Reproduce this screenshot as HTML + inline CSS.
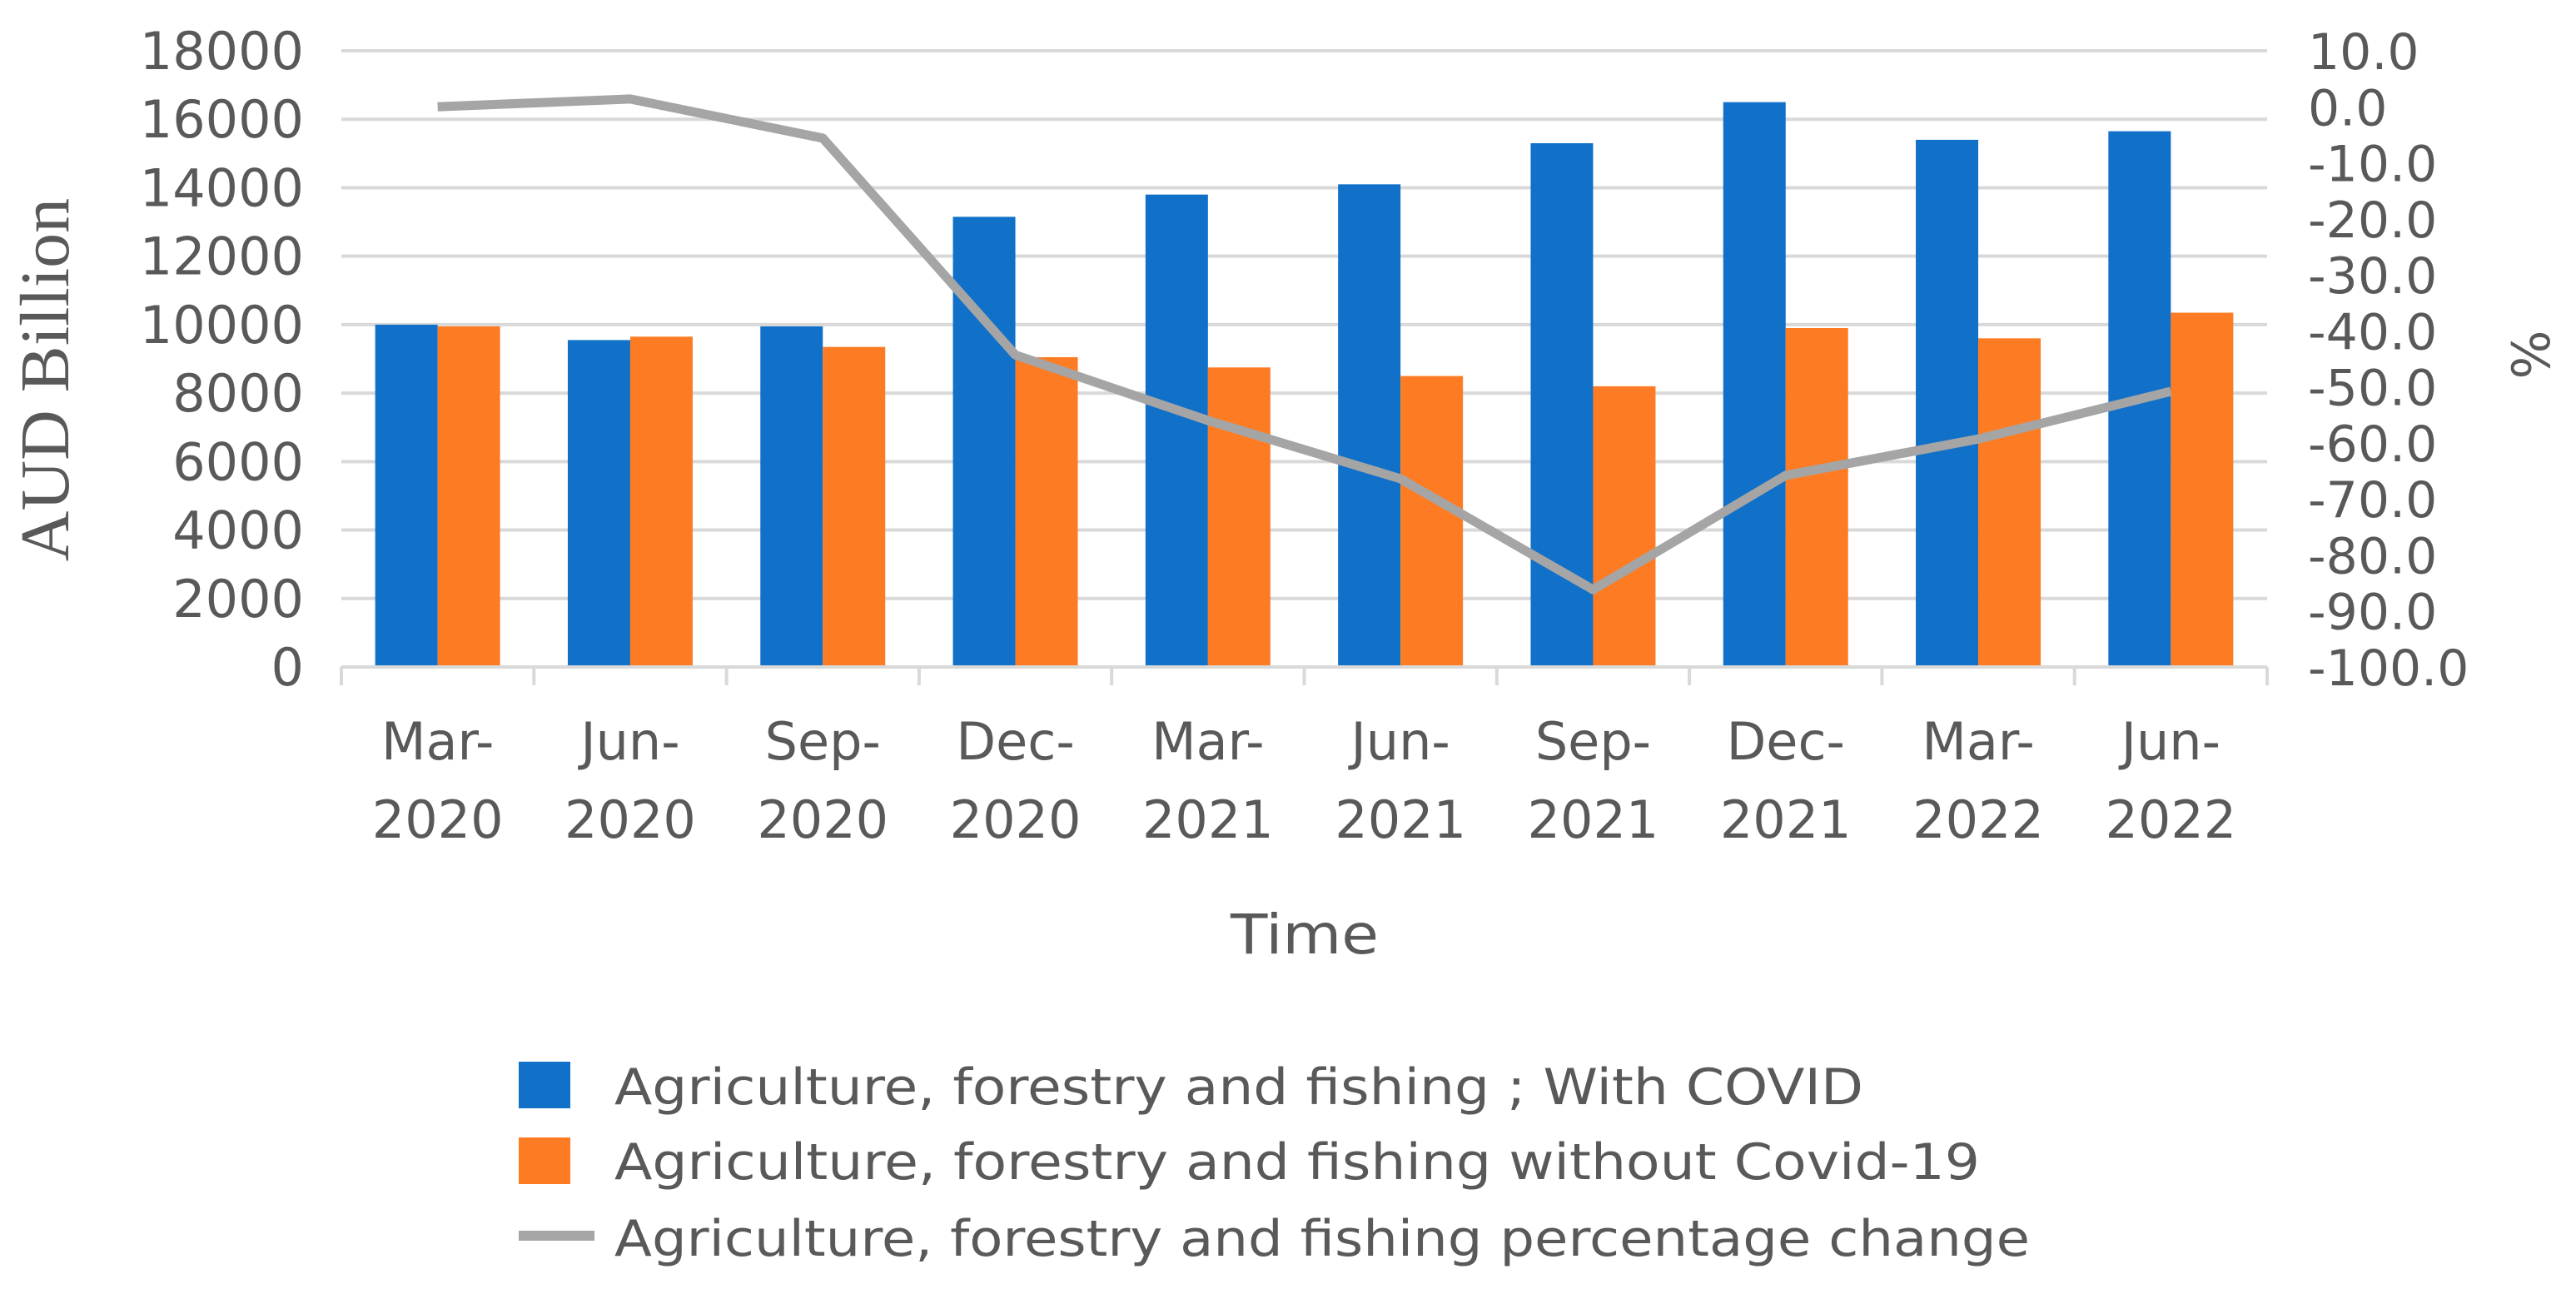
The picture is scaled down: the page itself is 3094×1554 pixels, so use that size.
<!DOCTYPE html>
<html><head><meta charset="utf-8"><style>
html,body{margin:0;padding:0;background:#fff;}
svg{display:block;font-family:"DejaVu Sans","Liberation Sans",sans-serif;}
</style></head><body>
<svg id="chart" width="3094" height="1554" viewBox="0 0 3094 1554" xmlns="http://www.w3.org/2000/svg">
<rect width="3094" height="1554" fill="#fff"/>
<g id="grid"></g>
<g id="bars"></g>
<g id="line"></g>
<g id="axes"></g>
<text x="0" y="0" transform="translate(82,456) rotate(-90)" text-anchor="middle" font-family="Liberation Serif, serif" font-size="84" fill="#595959">AUD Billion</text>
<text x="0" y="0" transform="translate(3062,426) rotate(-90)" text-anchor="middle" font-size="62" fill="#595959">%</text>
<text x="1567" y="1145" text-anchor="middle" font-size="66" fill="#595959" textLength="178" lengthAdjust="spacingAndGlyphs">Time</text>
<g>
  <rect x="623" y="1275" width="62" height="56" fill="#1170c8"/>
  <text x="738" y="1326" font-size="60" fill="#595959" textLength="1500" lengthAdjust="spacingAndGlyphs">Agriculture, forestry and fishing ; With COVID</text>
  <rect x="623" y="1366" width="62" height="56" fill="#fd7c23"/>
  <text x="738" y="1416" font-size="60" fill="#595959" textLength="1640" lengthAdjust="spacingAndGlyphs">Agriculture, forestry and fishing without Covid-19</text>
  <line x1="623" y1="1484" x2="714" y2="1484" stroke="#a5a5a5" stroke-width="12"/>
  <text x="738" y="1508" font-size="60" fill="#595959" textLength="1700" lengthAdjust="spacingAndGlyphs">Agriculture, forestry and fishing percentage change</text>
</g>
</svg>
<script>
const catTop = ["Mar-","Jun-","Sep-","Dec-","Mar-","Jun-","Sep-","Dec-","Mar-","Jun-"];
const catBottom = ["2020","2020","2020","2020","2021","2021","2021","2021","2022","2022"];
const withCovid = [10000,9550,9950,13150,13800,14100,15300,16500,15400,15650];
const withoutCovid = [9950,9650,9350,9050,8750,8500,8200,9900,9600,10350];
const pctChange = [0,1.4,-5.6,-44.3,-56,-66.4,-86.2,-65.8,-59.3,-50.8];
const leftTicks = [0,2000,4000,6000,8000,10000,12000,14000,16000,18000];
const rightTicks = [10,0,-10,-20,-30,-40,-50,-60,-70,-80,-90,-100];

const NS="http://www.w3.org/2000/svg";
const X0=410,X1=2723,Y0=801,Y1=61;
const catW=(X1-X0)/catTop.length;
const yL=v=>Y0-(v/18000)*(Y0-Y1);
const yR=v=>Y0-((v+100)/110)*(Y0-Y1);
const xc=i=>X0+catW*(i+0.5);
function mk(tag,attrs,parent){const e=document.createElementNS(NS,tag);for(const k in attrs)e.setAttribute(k,attrs[k]);parent.appendChild(e);return e;}
const grid=document.getElementById('grid'),bars=document.getElementById('bars'),line=document.getElementById('line'),axes=document.getElementById('axes');

leftTicks.forEach(v=>{
  if(v>0){const g=mk('line',{x1:X0,x2:X1,y1:yL(v),y2:yL(v),stroke:'#d9d9d9','stroke-width':4},grid);
  
  }
  const t=mk('text',{x:365,y:yL(v)+22,'text-anchor':'end','font-size':62,fill:'#595959'},axes);
  t.textContent=v;
  
  
});
rightTicks.forEach(v=>{
  const t=mk('text',{x:2772,y:yR(v)+22,'font-size':60,fill:'#595959'},axes);
  t.textContent=v.toFixed(1);
  
  
});
const bw=75;
catTop.forEach((c,i)=>{
  const b1=mk('rect',{x:xc(i)-bw,y:yL(withCovid[i]),width:bw,height:Y0-yL(withCovid[i]),fill:'#1170c8'},bars);
  
  
  const b2=mk('rect',{x:xc(i),y:yL(withoutCovid[i]),width:bw,height:Y0-yL(withoutCovid[i]),fill:'#fd7c23'},bars);
  
  
  const t1=mk('text',{x:xc(i),y:912,'text-anchor':'middle','font-size':62,fill:'#595959'},axes);
  t1.textContent=c;
  
  
  const t2=mk('text',{x:xc(i),y:1006,'text-anchor':'middle','font-size':62,fill:'#595959'},axes);
  t2.textContent=catBottom[i];
  
  
});
for(let i=0;i<=catTop.length;i++){
  const tk=mk('line',{x1:X0+catW*i,x2:X0+catW*i,y1:Y0,y2:Y0+22,stroke:'#d9d9d9','stroke-width':4},axes);
  
  
}
const ax=mk('line',{x1:X0,x2:X1,y1:Y0,y2:Y0,stroke:'#d9d9d9','stroke-width':4},axes);


const pts=pctChange.map((v,i)=>xc(i)+','+yR(v)).join(' ');
const pl=mk('polyline',{points:pts,fill:'none',stroke:'#a5a5a5','stroke-width':11,'stroke-linejoin':'round'},line);


</script>
</body></html>
